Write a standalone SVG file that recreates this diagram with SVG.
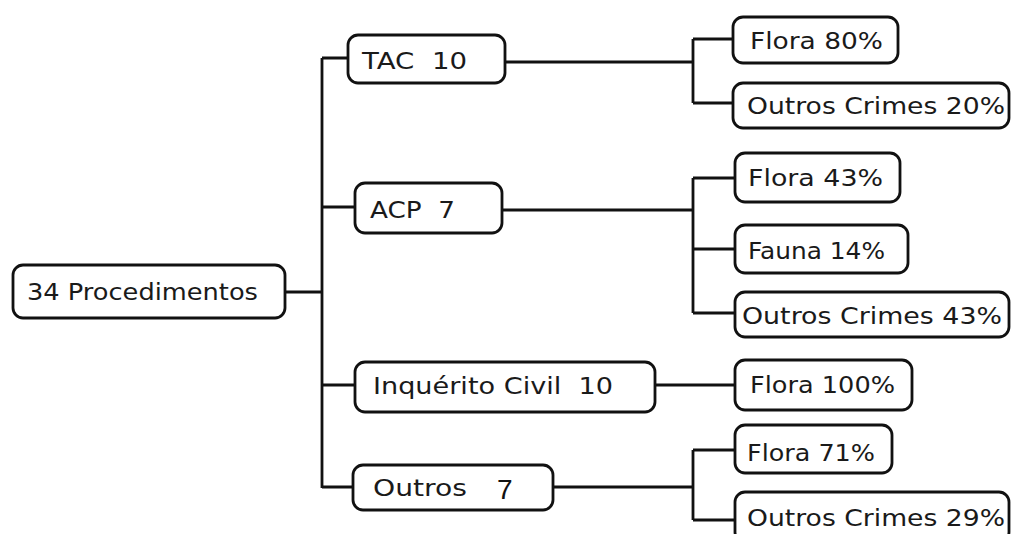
<svg xmlns="http://www.w3.org/2000/svg" width="1013" height="534" viewBox="0 0 1013 534">
<style>
.box{fill:#fff;stroke:#111;stroke-width:2.8}
.t{font-family:"DejaVu Sans","Liberation Sans",sans-serif;font-size:23px;fill:#1a1a1a}
.c{fill:none;stroke:#111;stroke-width:2.8}
</style>
<rect width="1013" height="534" fill="#fff"/>
<g id="connectors">
<path class="c" d="M285 292H322M322 58V488M322 58H348M322 207H355M322 385H355M322 487H353"/>
<path class="c" d="M505 62H693M693 39V103M693 39H733M693 103H733"/>
<path class="c" d="M502 210H693M693 178V313M693 178H735M693 249H735M693 313H735"/>
<path class="c" d="M655 385H735"/>
<path class="c" d="M553 487H693M693 450V520M693 450H735M693 520H735"/>
</g>
<g id="root"><rect class="box" x="13" y="265" width="272" height="53" rx="10"/><text class="t" x="27" y="300" font-size="25" textLength="231" lengthAdjust="spacingAndGlyphs">34 Procedimentos</text></g>
<g id="tac"><rect class="box" x="348" y="35" width="157" height="48" rx="10"/><text class="t" x="362" y="69" textLength="105" lengthAdjust="spacingAndGlyphs" xml:space="preserve">TAC  10</text></g>
<g id="acp"><rect class="box" x="355" y="183" width="147" height="50" rx="10"/><text class="t" x="370" y="218" textLength="85" lengthAdjust="spacingAndGlyphs" xml:space="preserve">ACP  7</text></g>
<g id="inquerito"><rect class="box" x="355" y="362" width="300" height="50" rx="10"/><text class="t" x="373" y="394" textLength="240" lengthAdjust="spacingAndGlyphs" xml:space="preserve">Inquérito Civil  10</text></g>
<g id="outros"><rect class="box" x="353" y="465" width="200" height="45" rx="10"/><text class="t" x="373" y="496" textLength="94" lengthAdjust="spacingAndGlyphs">Outros</text><text x="497" y="499" font-family="Liberation Sans, sans-serif" font-size="28" fill="#111">7</text></g>
<g id="tac-flora"><rect class="box" x="733" y="17" width="165" height="46" rx="10"/><text class="t" x="750" y="49" textLength="133" lengthAdjust="spacingAndGlyphs">Flora 80%</text></g>
<g id="tac-outros"><rect class="box" x="733" y="83" width="276" height="45" rx="10"/><text class="t" x="747" y="114" textLength="258" lengthAdjust="spacingAndGlyphs">Outros Crimes 20%</text></g>
<g id="acp-flora"><rect class="box" x="735" y="153" width="165" height="49" rx="10"/><text class="t" x="748" y="186" textLength="135" lengthAdjust="spacingAndGlyphs">Flora 43%</text></g>
<g id="acp-fauna"><rect class="box" x="735" y="225" width="173" height="48" rx="10"/><text class="t" x="748" y="259" textLength="137" lengthAdjust="spacingAndGlyphs">Fauna 14%</text></g>
<g id="acp-outros"><rect class="box" x="735" y="292" width="274" height="45" rx="10"/><text class="t" x="742" y="324" textLength="260" lengthAdjust="spacingAndGlyphs">Outros Crimes 43%</text></g>
<g id="ic-flora"><rect class="box" x="735" y="360" width="177" height="50" rx="10"/><text class="t" x="750" y="393" textLength="145" lengthAdjust="spacingAndGlyphs">Flora 100%</text></g>
<g id="outros-flora"><rect class="box" x="735" y="425" width="157" height="48" rx="10"/><text class="t" x="747" y="461" textLength="128" lengthAdjust="spacingAndGlyphs">Flora 71%</text></g>
<g id="outros-outros"><rect class="box" x="735" y="492" width="274" height="50" rx="10"/><text class="t" x="747" y="526" textLength="258" lengthAdjust="spacingAndGlyphs">Outros Crimes 29%</text></g>
</svg>
